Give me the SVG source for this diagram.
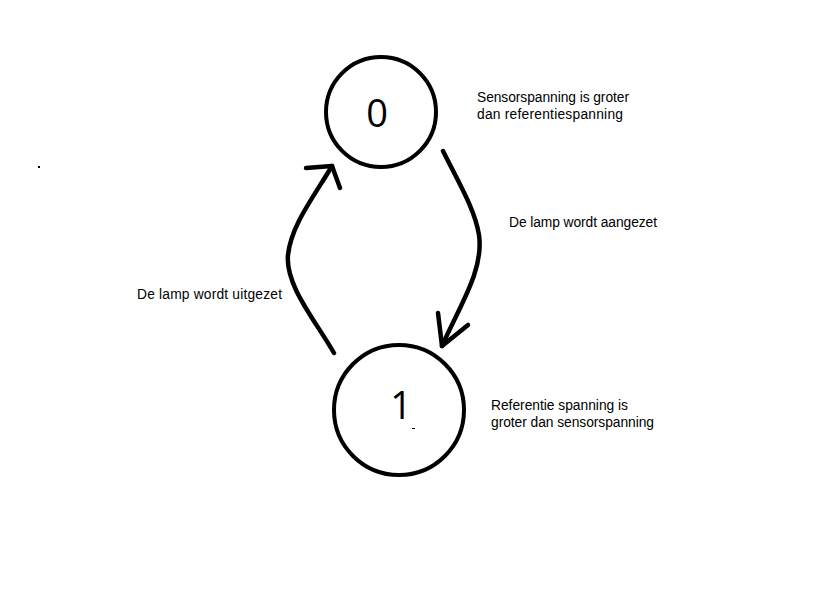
<svg xmlns="http://www.w3.org/2000/svg" width="837" height="611" viewBox="0 0 837 611">
<style>
.node{fill:none;stroke:#000;stroke-width:4}
.num{font-family:"Open Sans","Liberation Sans",sans-serif;font-size:38px;fill:#000;text-anchor:middle}
.lbl{font-family:"Liberation Sans",Arial,sans-serif;font-size:13.8px;fill:#000}
.edge{fill:none;stroke:#000;stroke-width:4.5;stroke-linecap:round;stroke-linejoin:round}
</style>
<rect width="837" height="611" fill="#fff"/>
<g id="state0">
<circle class="node" cx="381" cy="112" r="55"/>
<text class="num" x="377" y="127">0</text>
<text class="lbl" x="477" y="102" textLength="152">Sensorspanning is groter</text>
<text class="lbl" x="477" y="119" textLength="146">dan referentiespanning</text>
</g>
<g id="state1">
<circle class="node" cx="399" cy="410" r="65"/>
<text class="num" x="401" y="419">1</text>
<rect x="412" y="428" width="3" height="1" fill="#000"/>
<text class="lbl" x="491" y="410" textLength="137">Referentie spanning is</text>
<text class="lbl" x="491" y="427" textLength="163">groter dan sensorspanning</text>
</g>
<g id="connectors">
<path class="edge" d="M443,151 C460,185 475,210 479,235 C484,270 460,305 442,346"/>
<path class="edge" d="M438,313 L442,346 L468,325"/>
<path class="edge" d="M334,353 C315,320 285,285 288,255 C291,225 315,195 332,166"/>
<path class="edge" d="M306,168 L332,166 L340,188"/>
<text class="lbl" x="509" y="227" textLength="148">De lamp wordt aangezet</text>
<text class="lbl" x="137" y="299" textLength="145">De lamp wordt uitgezet</text>
</g>
<rect x="38" y="166" width="2" height="2" fill="#000"/>
</svg>
